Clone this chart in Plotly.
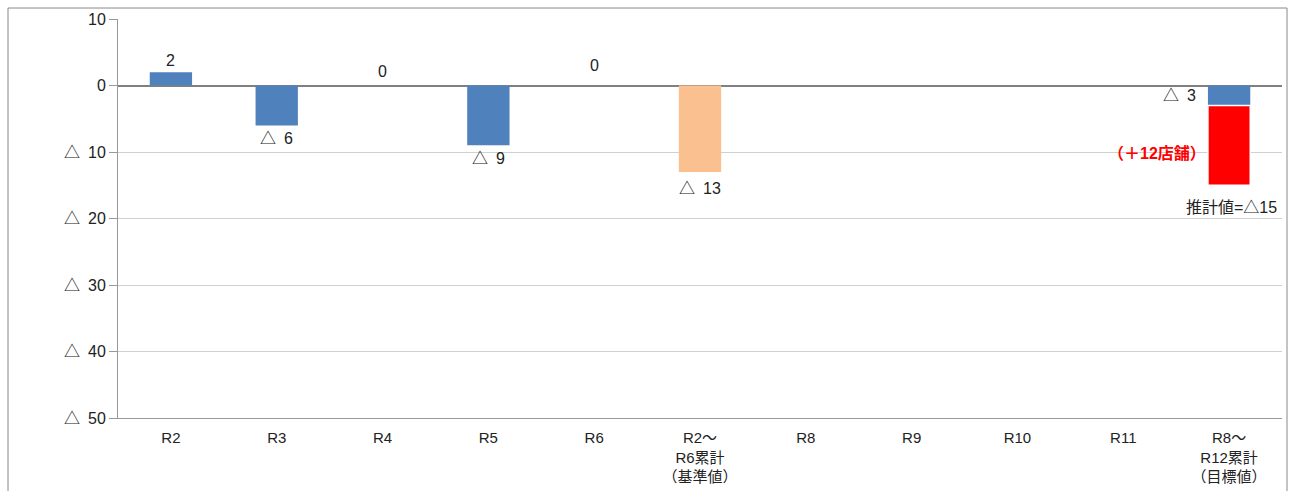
import plotly.graph_objects as go

# Categories (fiscal years and cumulative totals)
categories = ["R2", "R3", "R4", "R5", "R6", "R2～R6累計", "R8", "R9", "R10", "R11", "R8～R12累計"]
tick_labels = ["R2", "R3", "R4", "R5", "R6", "R2～<br>R6累計<br>（基準値）",
               "R8", "R9", "R10", "R11", "R8～<br>R12累計<br>（目標値）"]

# Yearly change (blue)
yearly = [2, -6, 0, -9, 0, None, None, None, None, None, -3]
# Baseline cumulative (orange)
baseline = [None, None, None, None, None, -13, None, None, None, None, None]
# Additional stores needed for target (red)
additional = [None, None, None, None, None, None, None, None, None, None, -12]

y_ticks = [10, 0, -10, -20, -30, -40, -50]


def fmt(v):
    return f"△\u2002{abs(v)}" if v < 0 else f"{v}"


FONT = "Liberation Sans, Noto Sans CJK JP"
BLUE = "#4f81bd"
ORANGE = "#fac090"
RED = "#ff0000"
TEXT = "#222"

fig = go.Figure()
fig.add_trace(go.Bar(x=categories, y=yearly, marker=dict(color=BLUE, line=dict(width=0)), width=0.4))
fig.add_trace(go.Bar(x=categories, y=baseline, marker=dict(color=ORANGE, line=dict(width=0)), width=0.4))
fig.add_trace(go.Bar(x=categories, y=additional,
                     marker=dict(color=RED, line=dict(color="white", width=1.5)), width=0.4))

lab = dict(size=16, color=TEXT)
annotations = []
zero_shift = {"R4": 4, "R6": 10}
for c, v in zip(categories, yearly):
    if v is None:
        continue
    if c == categories[-1]:
        annotations.append(dict(x=c, y=v / 2, text=fmt(v), xshift=-50, showarrow=False, font=lab))
    elif v > 0:
        annotations.append(dict(x=c, y=v, text=fmt(v), yanchor="bottom", yshift=1, showarrow=False, font=lab))
    elif v == 0:
        annotations.append(dict(x=c, y=v, text=fmt(v), yanchor="bottom", yshift=zero_shift.get(c, 6),
                                showarrow=False, font=lab))
    else:
        annotations.append(dict(x=c, y=v, text=fmt(v), yanchor="top", yshift=-3, showarrow=False, font=lab))

for c, v in zip(categories, baseline):
    if v is not None:
        annotations.append(dict(x=c, y=v, text=fmt(v), yanchor="top", yshift=-6, showarrow=False, font=lab))

last = categories[-1]
total = yearly[-1] + additional[-1]
annotations.append(dict(x=last, y=yearly[-1] + additional[-1] * 0.6,
                        text=f"<b>（＋{abs(additional[-1])}店舗）</b>", xshift=-72, showarrow=False,
                        font=dict(size=16, color=RED)))
annotations.append(dict(x=last, y=total, text=f"推計値=△{abs(total)}", yanchor="top", yshift=-12,
                        xshift=2, showarrow=False, font=lab))

fig.update_layout(
    width=1289, height=491,
    margin=dict(l=118, r=7, t=19, b=73),
    barmode="relative",
    showlegend=False,
    plot_bgcolor="white",
    paper_bgcolor="white",
    font=dict(family=FONT, size=16, color=TEXT),
    annotations=annotations,
    shapes=[dict(type="rect", xref="paper", yref="paper",
                 x0=(8 - 118) / 1164, x1=(1287 - 118) / 1164,
                 y0=-0.3, y1=1 + 11 / 399,
                 line=dict(color="#888", width=1), fillcolor="rgba(0,0,0,0)", layer="below")],
)
fig.update_xaxes(
    tickvals=categories, ticktext=tick_labels,
    showline=True, linecolor="#999", linewidth=1,
    showgrid=False, ticks="", tickfont=dict(size=15),
    ticklabelstandoff=6,
)
fig.update_yaxes(
    range=[-50, 10], tickvals=y_ticks, ticktext=[fmt(v) for v in y_ticks],
    showline=True, linecolor="#999", linewidth=1,
    ticks="outside", ticklen=8, tickcolor="#999",
    showgrid=True, gridcolor="#d0d0d0", gridwidth=1,
    zeroline=True, zerolinecolor="#808080", zerolinewidth=2,
    tickfont=dict(size=16),
)

fig.write_html("out.html")
